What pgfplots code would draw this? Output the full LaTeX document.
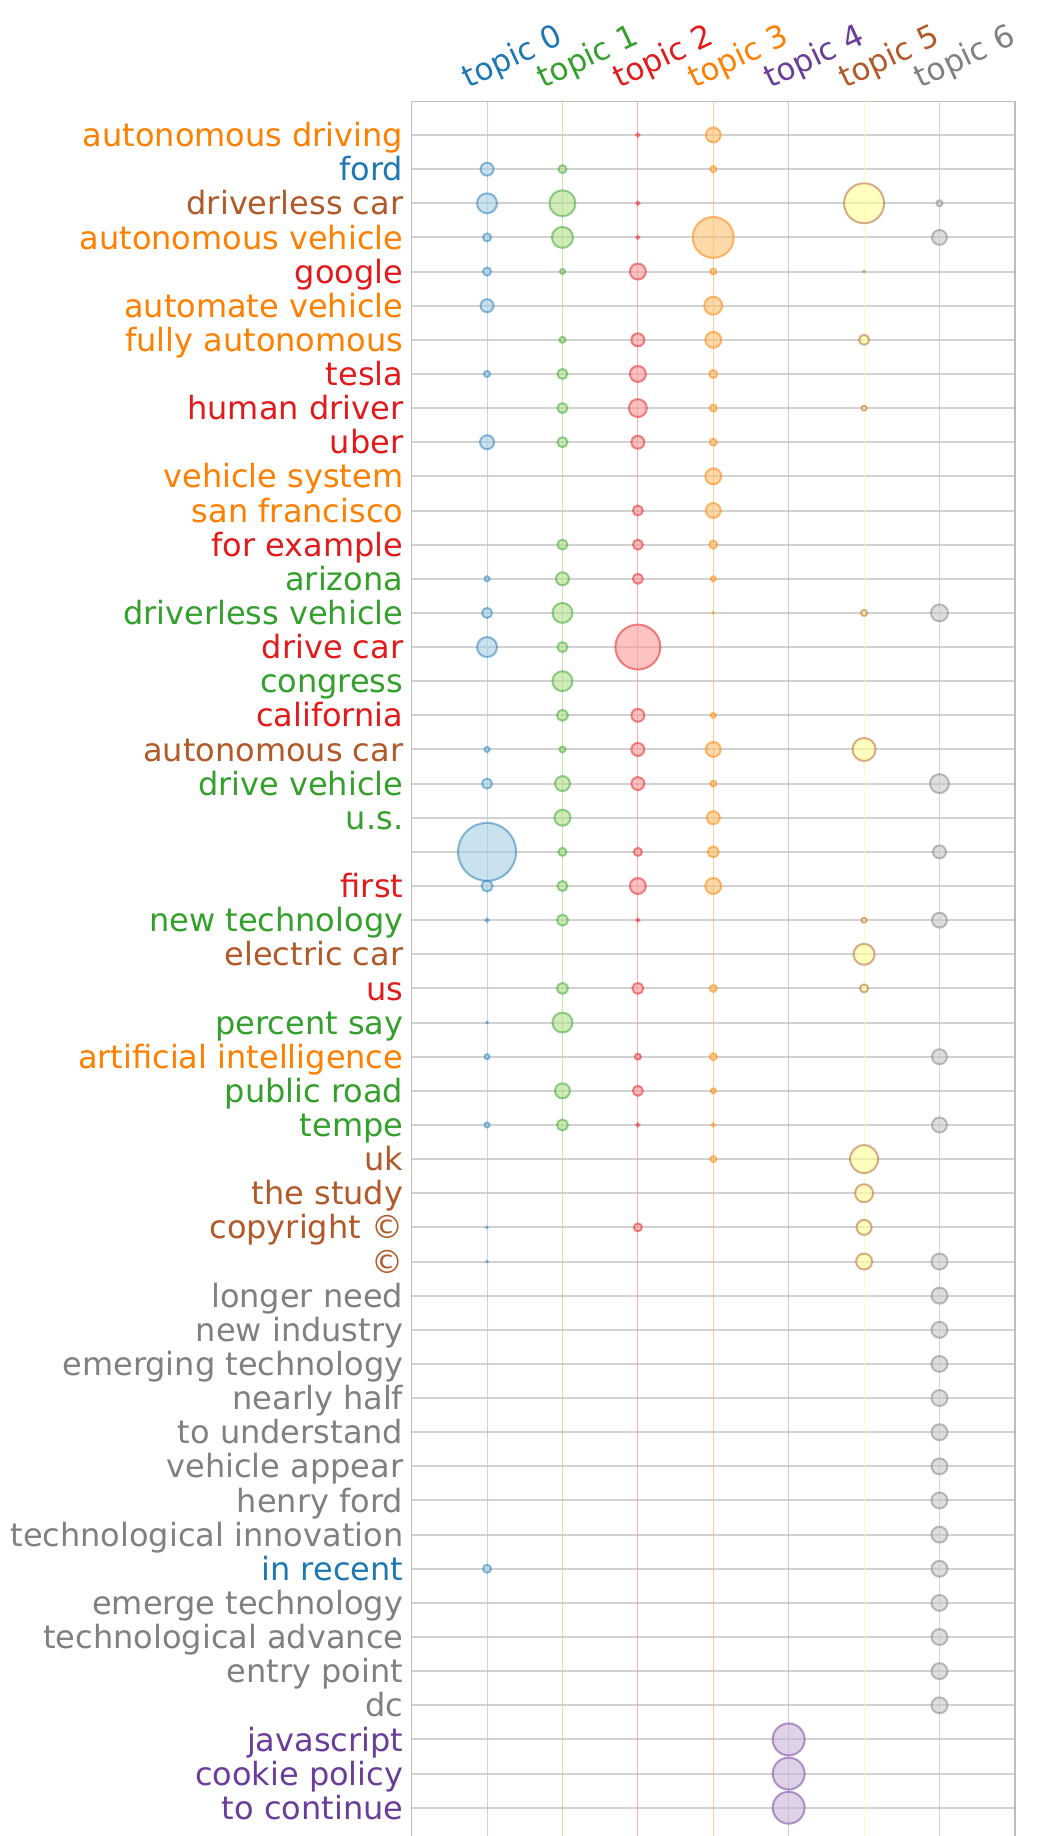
\documentclass[border=0pt]{standalone}
\usepackage{pgfplots}
\pgfplotsset{compat=1.18}
\usepackage{pgfplotstable}
\usepackage{fontspec}
\setmainfont{DejaVu Sans}
\usetikzlibrary{calc}

\definecolor{c0}{HTML}{1F78B4} \definecolor{c0l}{HTML}{A6CEE3}
\definecolor{c1}{HTML}{33A02C} \definecolor{c1l}{HTML}{B2DF8A}
\definecolor{c2}{HTML}{E31A1C} \definecolor{c2l}{HTML}{FB9A99}
\definecolor{c3}{HTML}{FF7F00} \definecolor{c3l}{HTML}{FDBF6F}
\definecolor{c4}{HTML}{6A3D9A} \definecolor{c4l}{HTML}{CAB2D6}
\definecolor{c5}{HTML}{B15928} \definecolor{c5l}{HTML}{FFFF99}
\definecolor{c6}{HTML}{808080} \definecolor{c6l}{HTML}{C8C8C8}
\definecolor{gridc}{HTML}{D2D2D2}
\definecolor{spine}{HTML}{BDBDBD}

\pgfplotstableread{
x y d
0 2 15
0 3 22
0 4 10
0 5 10
0 6 15
0 8 8
0 10 16
0 14 7
0 15 12
0 16 22
0 19 7
0 20 12
0 22 60
0 23 13
0 24 5
0 27 3
0 28 7
0 30 7
0 33 3
0 34 3
0 43 10
}\tzero
\pgfplotstableread{
x y d
1 2 10
1 3 28
1 4 23
1 5 7
1 7 8
1 8 12
1 9 12
1 10 12
1 13 12
1 14 15
1 15 22
1 16 12
1 17 22
1 18 13
1 19 8
1 20 17
1 21 18
1 22 10
1 23 12
1 24 13
1 26 13
1 27 22
1 29 17
1 30 13
}\tone
\pgfplotstableread{
x y d
2 1 5
2 3 5
2 4 5
2 5 18
2 7 15
2 8 18
2 9 20
2 10 15
2 12 12
2 13 12
2 14 12
2 16 47
2 18 15
2 19 15
2 20 15
2 22 10
2 23 18
2 24 5
2 26 13
2 28 8
2 29 12
2 30 5
2 33 10
}\ttwo
\pgfplotstableread{
x y d
3 1 17
3 2 8
3 4 43
3 5 8
3 6 20
3 7 18
3 8 10
3 9 9
3 10 9
3 11 18
3 12 17
3 13 10
3 14 7
3 15 3
3 18 7
3 19 17
3 20 8
3 21 15
3 22 13
3 23 18
3 26 9
3 28 9
3 29 7
3 30 5
3 31 8
}\tthree
\pgfplotstableread{
x y d
4 48 34
4 49 34
4 50 34
}\tfour
\pgfplotstableread{
x y d
5 3 42
5 5 3
5 7 12
5 9 7
5 15 8
5 19 25
5 24 7
5 25 23
5 26 10
5 31 30
5 32 20
5 33 17
5 34 18
}\tfive
\pgfplotstableread{
x y d
6 3 8
6 4 17
6 15 19
6 20 21
6 22 15
6 24 17
6 28 17
6 30 17
6 34 18
6 35 18
6 36 18
6 37 18
6 38 18
6 39 18
6 40 18
6 41 18
6 42 18
6 43 18
6 44 18
6 45 18
6 46 18
6 47 18
}\tsix

\pgfplotsset{
  bub/.style 2 args={scatter, only marks, mark=*, forget plot,
    point meta=\thisrow{d},
    visualization depends on={max(\thisrow{d}/4-0.5,0.3) \as \msz},
    scatter/use mapped color={draw=#1, fill=#2, fill opacity=0.6, draw opacity=0.5, line width=1pt},
    scatter/@pre marker code/.append style={/tikz/mark size=\msz pt}},
  vline/.style={forget plot, no marks, line width=0.5pt, draw=#1, draw opacity=0.75},
}

\begin{document}
\begin{tikzpicture}
\begin{axis}[
  at={(0,0)}, anchor=north west,
  scale only axis, width=301.65pt, height=870.15pt,
  xmin=-1, xmax=7, ymin=0.025, ymax=51,
  y dir=reverse,
  xtick={0,...,6},
  xticklabels={{\textcolor{c0}{topic 0}},{\textcolor{c1}{topic 1}},{\textcolor{c2}{topic 2}},{\textcolor{c3}{topic 3}},{\textcolor{c4}{topic 4}},{\textcolor{c5}{topic 5}},{\textcolor{c6}{topic 6}}},
  xticklabel pos=upper,
  xticklabel shift=3.5pt,
  xticklabel style={xshift=-8pt, rotate=25, anchor=south west, inner sep=0pt, font=\fontsize{15.5}{18}\selectfont},
  ytick={1,...,50},
  yticklabels={
    {\textcolor{c3}{autonomous driving}},
    {\textcolor{c0}{ford}},
    {\textcolor{c5}{driverless car}},
    {\textcolor{c3}{autonomous vehicle}},
    {\textcolor{c2}{google}},
    {\textcolor{c3}{automate vehicle}},
    {\textcolor{c3}{fully autonomous}},
    {\textcolor{c2}{tesla}},
    {\textcolor{c2}{human driver}},
    {\textcolor{c2}{uber}},
    {\textcolor{c3}{vehicle system}},
    {\textcolor{c3}{san francisco}},
    {\textcolor{c2}{for example}},
    {\textcolor{c1}{arizona}},
    {\textcolor{c1}{driverless vehicle}},
    {\textcolor{c2}{drive car}},
    {\textcolor{c1}{congress}},
    {\textcolor{c2}{california}},
    {\textcolor{c5}{autonomous car}},
    {\textcolor{c1}{drive vehicle}},
    {\textcolor{c1}{u.s.}},
    {},
    {\textcolor{c2}{first}},
    {\textcolor{c1}{new technology}},
    {\textcolor{c5}{electric car}},
    {\textcolor{c2}{us}},
    {\textcolor{c1}{percent say}},
    {\textcolor{c3}{artificial intelligence}},
    {\textcolor{c1}{public road}},
    {\textcolor{c1}{tempe}},
    {\textcolor{c5}{uk}},
    {\textcolor{c5}{the study}},
    {\textcolor{c5}{copyright ©}},
    {\textcolor{c5}{©}},
    {\textcolor{c6}{longer need}},
    {\textcolor{c6}{new industry}},
    {\textcolor{c6}{emerging technology}},
    {\textcolor{c6}{nearly half}},
    {\textcolor{c6}{to understand}},
    {\textcolor{c6}{vehicle appear}},
    {\textcolor{c6}{henry ford}},
    {\textcolor{c6}{technological innovation}},
    {\textcolor{c0}{in recent}},
    {\textcolor{c6}{emerge technology}},
    {\textcolor{c6}{technological advance}},
    {\textcolor{c6}{entry point}},
    {\textcolor{c6}{dc}},
    {\textcolor{c4}{javascript}},
    {\textcolor{c4}{cookie policy}},
    {\textcolor{c4}{to continue}}},
  yticklabel style={anchor=base east, inner sep=0pt, xshift=-4pt, yshift=-5.8pt, font=\fontsize{16}{19}\selectfont},
  major tick length=0pt,
  ymajorgrids, xmajorgrids=false,
  major grid style={draw=gridc, line width=1pt},
  axis line style={draw=spine, line width=0.75pt},
  clip=true,
]
\addplot[vline=c0l] coordinates {(0,0) (0,51)};
\addplot[vline=c1l] coordinates {(1,0) (1,51)};
\addplot[vline=c2l] coordinates {(2,0) (2,51)};
\addplot[vline=c3l] coordinates {(3,0) (3,51)};
\addplot[vline=c4l] coordinates {(4,0) (4,51)};
\addplot[vline=c5l] coordinates {(5,0) (5,51)};
\addplot[vline=c6l] coordinates {(6,0) (6,51)};

\addplot[bub={c0}{c0l}] table[x=x,y=y] {\tzero};
\addplot[bub={c1}{c1l}] table[x=x,y=y] {\tone};
\addplot[bub={c2}{c2l}] table[x=x,y=y] {\ttwo};
\addplot[bub={c3}{c3l}] table[x=x,y=y] {\tthree};
\addplot[bub={c4}{c4l}] table[x=x,y=y] {\tfour};
\addplot[bub={c5}{c5l}] table[x=x,y=y] {\tfive};
\addplot[bub={c6}{c6l}] table[x=x,y=y] {\tsix};

\coordinate (tl) at (axis cs:-1,0.025);
\coordinate (br) at (axis cs:7,50.83);
\end{axis}
\pgfresetboundingbox
\path[use as bounding box] ($(tl)+(-205.85pt,50.85pt)$) rectangle ($(br)+(16pt,0pt)$);
\end{tikzpicture}
\end{document}
